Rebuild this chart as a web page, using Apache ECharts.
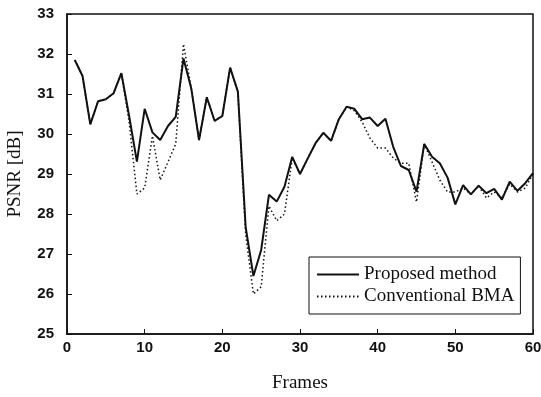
<!DOCTYPE html>
<html>
<head>
<meta charset="utf-8">
<script src="https://cdn.jsdelivr.net/npm/echarts@6/dist/echarts.min.js"></script>
<style>
  html, body { margin: 0; padding: 0; background: #fff; }
  #chart { width: 541px; height: 397px; }
</style>
</head>
<body>
<div id="chart"></div>
<script>
// frame numbers 1..60
const frames = [
  1, 2, 3, 4, 5, 6, 7, 8, 9, 10, 11, 12, 13, 14, 15, 16, 17, 18, 19, 20,
  21, 22, 23, 24, 25, 26, 27, 28, 29, 30, 31, 32, 33, 34, 35, 36, 37, 38, 39, 40,
  41, 42, 43, 44, 45, 46, 47, 48, 49, 50, 51, 52, 53, 54, 55, 56, 57, 58, 59, 60
]

const proposed = [
  31.85, 31.45, 30.24, 30.82, 30.87, 31.02, 31.52, 30.45, 29.31, 30.63,
  30.04, 29.85, 30.2, 30.43, 31.89, 31.14, 29.85, 30.92, 30.33, 30.45,
  31.66, 31.06, 27.68, 26.45, 27.1, 28.48, 28.31, 28.68, 29.43, 29.0,
  29.39, 29.77, 30.03, 29.83, 30.37, 30.68, 30.63, 30.37, 30.41, 30.2,
  30.38, 29.68, 29.2, 29.1, 28.56, 29.75, 29.43, 29.27, 28.91, 28.24,
  28.72, 28.49, 28.71, 28.52, 28.63, 28.36, 28.81, 28.58, 28.77, 29.02
]

const conventional = [
  31.85, 31.45, 30.24, 30.82, 30.87, 31.02, 31.52, 30.3, 28.5, 28.65,
  29.95, 28.85, 29.3, 29.75, 32.25, 31.14, 29.85, 30.92, 30.33, 30.45,
  31.66, 31.06, 27.5, 26.0, 26.18, 28.2, 27.83, 28.0, 29.4, 29.0,
  29.39, 29.77, 30.03, 29.83, 30.37, 30.68, 30.58, 30.3, 29.9, 29.65,
  29.65, 29.4, 29.27, 29.27, 28.3, 29.75, 29.3, 28.85, 28.55, 28.55,
  28.65, 28.5, 28.7, 28.4, 28.55, 28.4, 28.75, 28.55, 28.65, 29.0
]

const chart = echarts.init(document.getElementById('chart'), null, { renderer: 'canvas' })

const tickFont = {
  color: '#111',
  fontFamily: 'Liberation Sans',
  fontWeight: 'bold',
  fontSize: 15
}

const titleFont = {
  color: '#111',
  fontFamily: 'Liberation Serif',
  fontSize: 19
}

chart.setOption({
  animation: false,
  backgroundColor: '#fff',
  grid: {
    left: 67,
    right: 8,
    top: 14,
    bottom: 63,
    outerBoundsMode: 'none',
    show: true,
    borderColor: '#111',
    borderWidth: 1.5,
    backgroundColor: 'transparent'
  },
  legend: {
    orient: 'vertical',
    left: 309,
    top: 257,
    itemWidth: 42,
    itemHeight: 10,
    itemGap: 3,
    padding: [8, 6, 8, 7],
    borderColor: '#111',
    borderWidth: 1,
    backgroundColor: '#fff',
    itemStyle: { opacity: 0 },
    textStyle: titleFont,
    data: ['Proposed method', 'Conventional BMA']
  },
  xAxis: {
    type: 'value',
    min: 0,
    max: 60,
    interval: 10,
    name: 'Frames',
    nameLocation: 'middle',
    nameGap: 40,
    nameTextStyle: titleFont,
    axisLine: { show: true, lineStyle: { color: '#111', width: 1.5 } },
    axisTick: { show: true, inside: true, length: 5, lineStyle: { color: '#111' } },
    axisLabel: Object.assign({ margin: 6 }, tickFont),
    splitLine: { show: false }
  },
  yAxis: {
    type: 'value',
    min: 25,
    max: 33,
    interval: 1,
    name: 'PSNR [dB]',
    nameLocation: 'middle',
    nameGap: 42,
    nameTextStyle: titleFont,
    axisLine: { show: true, lineStyle: { color: '#111', width: 1.5 } },
    axisTick: { show: true, inside: true, length: 5, lineStyle: { color: '#111' } },
    axisLabel: Object.assign({ margin: 13 }, tickFont),
    splitLine: { show: false }
  },
  series: [
    {
      name: 'Conventional BMA',
      type: 'line',
      symbol: 'none',
      data: frames.map((f, i) => [f, conventional[i]]),
      lineStyle: { color: '#111', width: 1.5, type: [1.5, 2.5] },
      itemStyle: { color: '#111' },
      z: 2
    },
    {
      name: 'Proposed method',
      type: 'line',
      symbol: 'none',
      data: frames.map((f, i) => [f, proposed[i]]),
      lineStyle: { color: '#111', width: 2, type: 'solid' },
      itemStyle: { color: '#111' },
      z: 3
    }
  ]
})
</script>
</body>
</html>
